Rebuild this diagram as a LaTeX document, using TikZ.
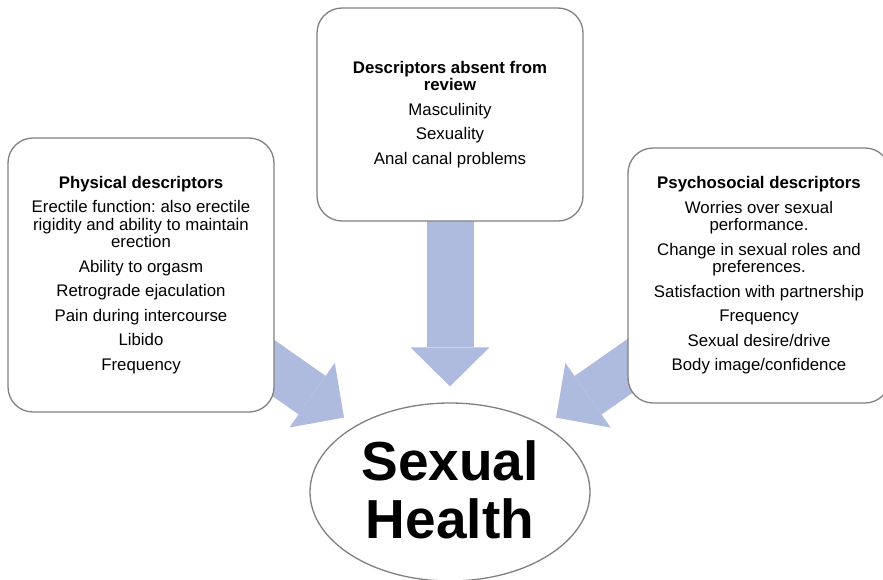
\documentclass[tikz,border=0pt]{standalone}
\usepackage{fontspec}
\setmainfont{Liberation Sans}
\frenchspacing
\usepackage{tikz}
\usetikzlibrary{arrows.meta,backgrounds,shapes.geometric}
\definecolor{arrowblue}{RGB}{174,187,223}
\definecolor{boxgray}{RGB}{128,128,128}
\tikzset{
  descbox/.style={draw=boxgray, line width=1.3pt, fill=white, rounded corners=25pt,
    text width=238pt, align=flush center, inner sep=0pt,
    font=\fontsize{16.8}{17.5}\selectfont},
  healthnode/.style={ellipse, draw=boxgray, line width=1.3pt, fill=white,
    minimum width=280pt, minimum height=178pt, inner sep=0pt, align=center,
    text depth=5pt, font=\bfseries\fontsize{55}{57.5}\selectfont},
  bigarrow/.style={draw=arrowblue, line width=47pt,
    -{Triangle[length=39pt,width=79pt,line width=0pt]}}
}

\begin{document}
\begin{tikzpicture}[x=1pt,y=-1pt]
\useasboundingbox (0,0) rectangle (883,579);
\node[descbox, minimum width=266pt, minimum height=274pt] (phys) at (141,275) {
{\bfseries Physical descriptors}\\[7pt]
Erectile function: also erectile rigidity and ability to maintain erection\\[7pt]
Ability to orgasm\\[7pt]
Retrograde ejaculation\\[7pt]
Pain during intercourse\\[7pt]
Libido\\[7pt]
Frequency};
\node[descbox, minimum width=266pt, minimum height=213pt] (absent) at (450,114.5) {
{\bfseries Descriptors absent from review}\\[7pt]
Masculinity\\[7pt]
Sexuality\\[7pt]
Anal canal problems};
\node[descbox, minimum width=262pt, minimum height=255pt] (psycho) at (759,275.5) {
{\bfseries Psychosocial descriptors}\\[7pt]
Worries over sexual performance.\\[7pt]
Change in sexual roles and preferences.\\[7pt]
Satisfaction with partnership\\[7pt]
Frequency\\[7pt]
Sexual desire/drive\\[7pt]
Body image/confidence};
\node[healthnode] (health) at (450,492) {Sexual\\Health};
% arrows behind the boxes
\begin{scope}[on background layer]
\draw[bigarrow, shorten >=14pt] (phys.center) -- (health);
\draw[bigarrow, shorten >=16pt] (absent.center) -- (health);
\draw[bigarrow, shorten >=14pt] (psycho.center) -- (health);
\end{scope}
\end{tikzpicture}
\end{document}
